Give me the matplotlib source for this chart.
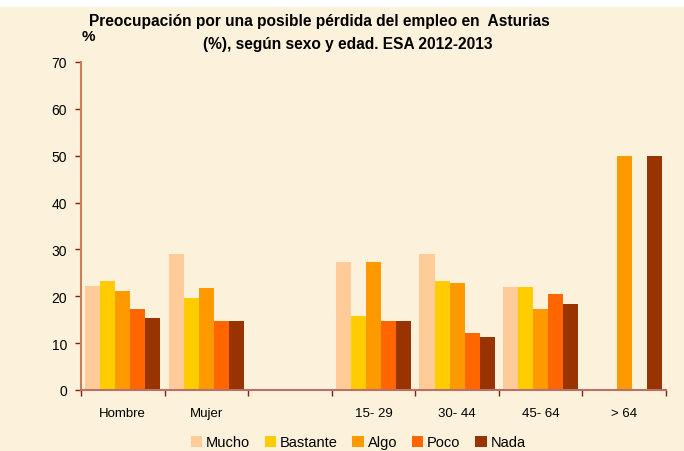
import numpy as np
import matplotlib

matplotlib.use("Agg")

import matplotlib.pyplot as plt
from matplotlib.patches import Rectangle

# ----- data -----
categories = ["Hombre", "Mujer", "", "15- 29", "30- 44", "45- 64", "> 64"]
series = ["Mucho", "Bastante", "Algo", "Poco", "Nada"]
mucho = [22.2, 29.0, 0, 27.3, 29.0, 22.0, 0]
bastante = [23.3, 19.6, 0, 15.8, 23.3, 22.0, 0]
algo = [21.1, 21.8, 0, 27.3, 22.8, 17.3, 50.0]
poco = [17.3, 14.7, 0, 14.7, 12.2, 20.5, 0]
nada = [15.4, 14.7, 0, 14.7, 11.3, 18.4, 50.0]
colors = ["#FFCC99", "#FFCC00", "#FF9900", "#FF6600", "#993300"]

values = [mucho, bastante, algo, poco, nada]

plt.rcParams["font.family"] = ["Liberation Sans", "DejaVu Sans"]

fig = plt.figure(figsize=(6.84, 4.52), dpi=100, facecolor="white")
# beige background below a thin white strip at the top
fig.patches.append(Rectangle((0, 0), 1, 1 - 8 / 452, transform=fig.transFigure,
                             facecolor="#FCF1DB", edgecolor="none", zorder=-1))

ax = fig.add_axes([81 / 684, 1 - 391 / 452, 585 / 684, 328 / 452])
ax.set_facecolor("none")

x = np.arange(len(categories))
bw = 0.18
bars = []
for k, (name, vals, c) in enumerate(zip(series, values, colors)):
    b = ax.bar(x + 0.05 + bw * k + bw / 2, vals, width=bw, color=c,
               label=name, linewidth=0)
    bars.append(b)

ax.set_xlim(0, len(categories))
ax.set_ylim(0, 70)
ax.set_yticks(np.arange(0, 71, 10))

# boundary ticks, labels centred on categories
ax.set_xticks(np.arange(0, len(categories) + 1))
ax.set_xticklabels([])
ax.set_xticks(x + 0.5, minor=True)
ax.set_xticklabels(categories, minor=True)
ax.tick_params(axis="x", which="minor", length=0, pad=12, labelsize=9.5)
ax.tick_params(axis="x", which="major", direction="out", length=4,
               color="#8B1A1A", width=1)
ax.tick_params(axis="y", direction="out", length=4, color="#8B1A1A",
               width=1, labelsize=10, pad=6)

for s in ["top", "right"]:
    ax.spines[s].set_visible(False)
ax.spines["left"].set_color("#C8805A")
ax.spines["left"].set_linewidth(1.5)
ax.spines["bottom"].set_color("#B87068")
ax.spines["bottom"].set_linewidth(1.5)

fig.text(319 / 684, 1 - 21.5 / 452, "Preocupación por una posible pérdida del empleo en  Asturias",
         ha="center", va="center", fontsize=11.2, fontweight="bold")
fig.text(347.5 / 684, 1 - 45 / 452, "(%), según sexo y edad. ESA 2012-2013",
         ha="center", va="center", fontsize=11.2, fontweight="bold")
fig.text(88 / 684, 1 - 37 / 452, "%", ha="center", va="center",
         fontsize=11, fontweight="bold")

fig.legend(handles=bars, labels=series, loc="center", ncol=5,
           bbox_to_anchor=(358 / 684, 1 - 443.5 / 452), frameon=False,
           fontsize=10.5, handlelength=0.8, handleheight=0.8,
           handletextpad=0.25, columnspacing=1.0, borderpad=0)

fig.savefig("out.png", dpi=100, facecolor=fig.get_facecolor())
